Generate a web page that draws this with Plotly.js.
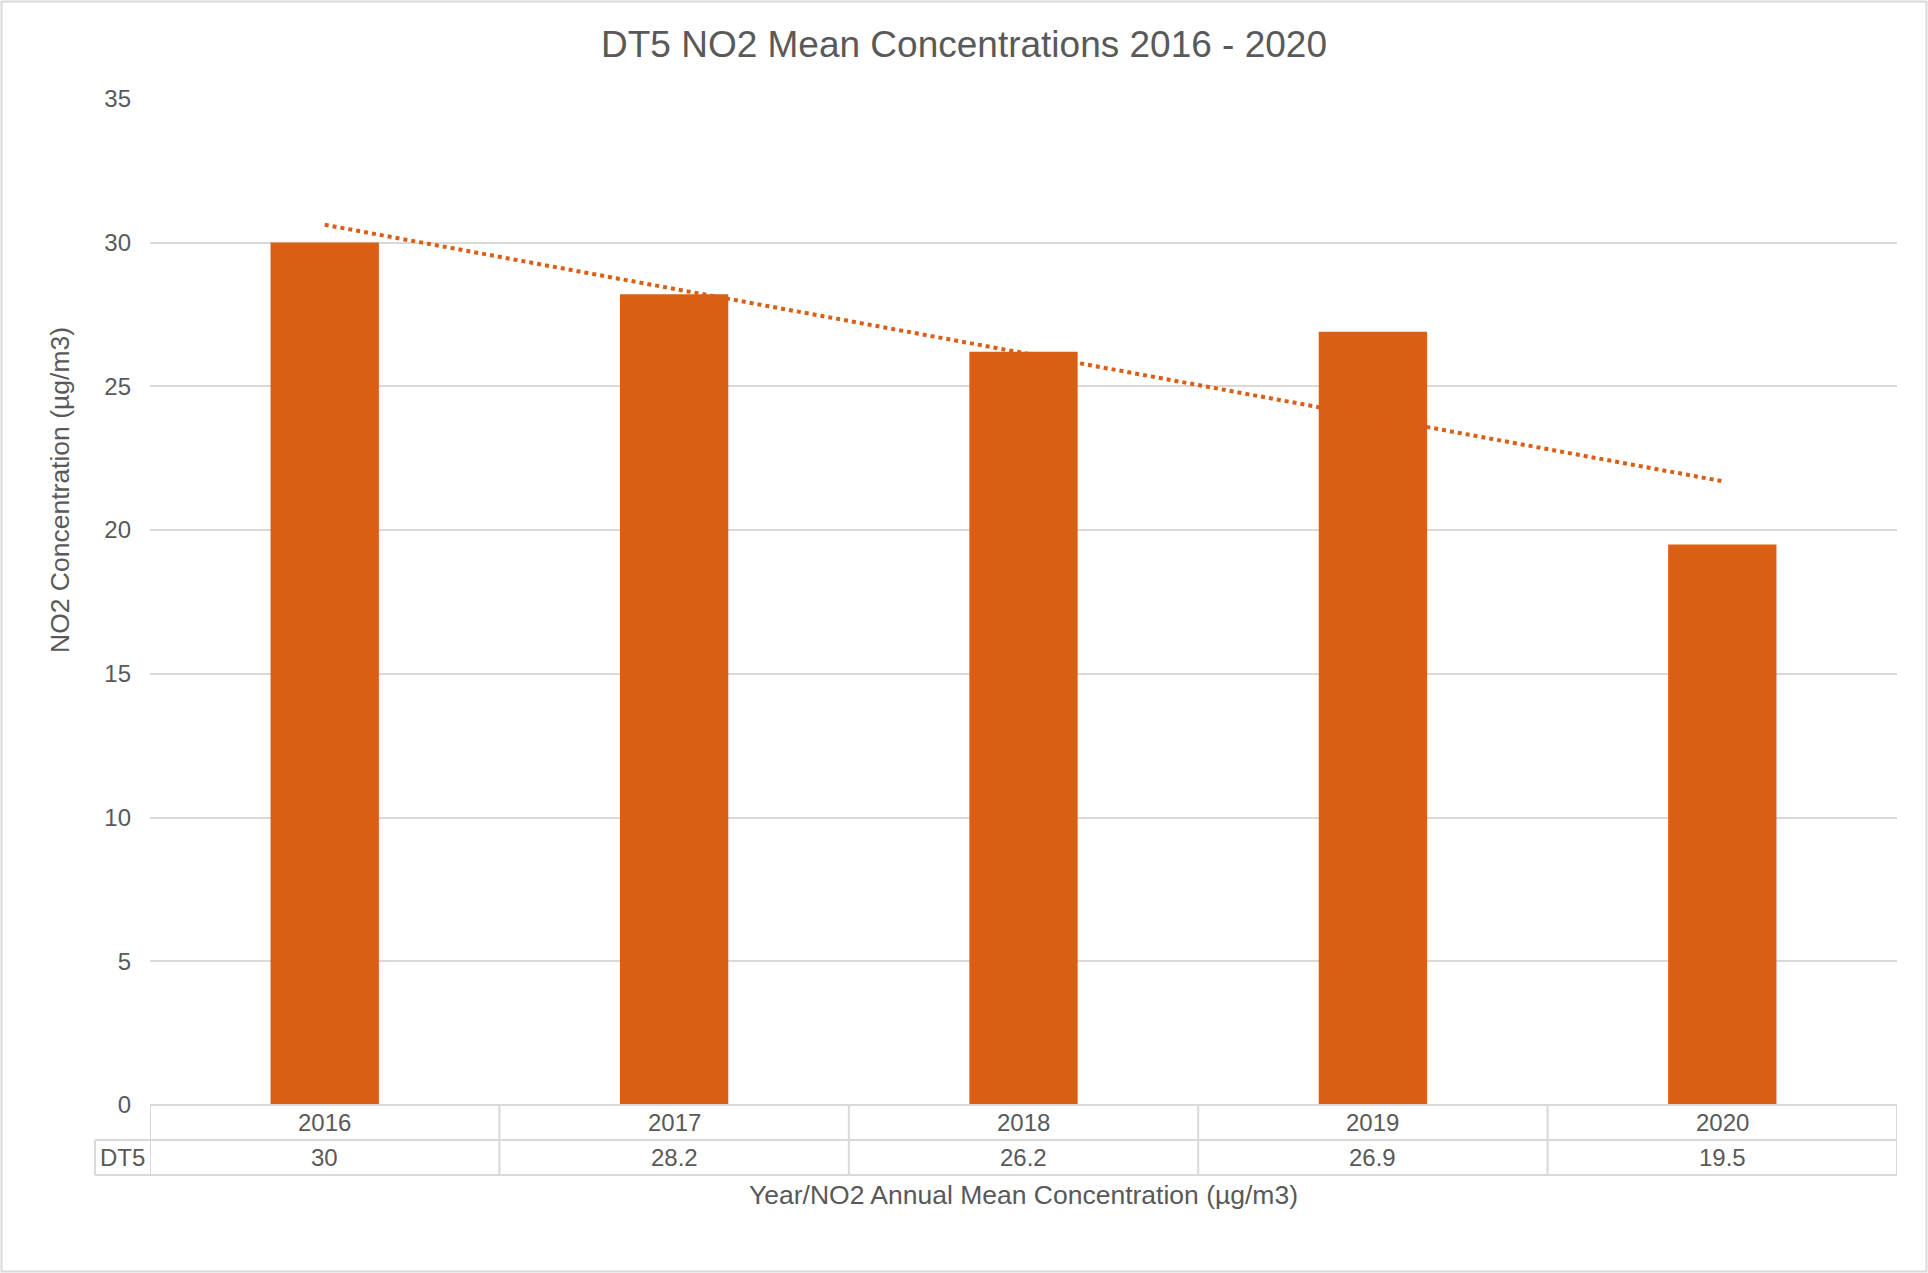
<!DOCTYPE html>
<html>
<head>
<meta charset="utf-8">
<script src="https://cdn.plot.ly/plotly-3.0.1.min.js"></script>
<style>
  html, body { margin: 0; padding: 0; background: #fff; }
  #chart { width: 1928px; height: 1273px; }
</style>
</head>
<body>
<div id="chart"></div>
<script>
// ---- data ----
const years = ['2016', '2017', '2018', '2019', '2020'];
const seriesName = 'DT5';
const dt5Values = [30, 28.2, 26.2, 26.9, 19.5];
const yTicks = [0, 5, 10, 15, 20, 25, 30, 35];

const chartTitle = 'DT5 NO2 Mean Concentrations 2016 - 2020';
const yTitle = 'NO2 Concentration (µg/m3)';
const xTitle = 'Year/NO2 Annual Mean Concentration (µg/m3)';

// ---- styles / layout constants ----
const W = 1928, H = 1273;
const mL = 150, mR = 31, mT = 98, mB = 168;
const plotW = W - mL - mR, plotH = H - mT - mB;
const barColor = '#DA5E14';
const gridColor = '#D9D9D9';
const textColor = '#595959';
const FONT = 'Liberation Sans, Arial, sans-serif';

// linear trendline (least squares) from the data
const n = dt5Values.length;
const xs = dt5Values.map((_, i) => i + 1);
const mx = xs.reduce((a, b) => a + b, 0) / n;
const my = dt5Values.reduce((a, b) => a + b, 0) / n;
let sxy = 0, sxx = 0;
for (let i = 0; i < n; i++) { sxy += (xs[i] - mx) * (dt5Values[i] - my); sxx += (xs[i] - mx) ** 2; }
const slope = sxy / sxx, icpt = my - slope * mx;
const trendY = xs.map(x => icpt + slope * x);

// table geometry in paper coords
const px2x = p => (p - mL) / plotW;
const py2y = p => (H - mB - p) / plotH;
const row1Bottom = py2y(H - mB + 35);
const row2Bottom = py2y(H - mB + 70);
const row1Mid = (0 + row1Bottom) / 2;
const row2Mid = (row1Bottom + row2Bottom) / 2;
const labelLeft = px2x(95);

const lineStyle = { color: gridColor, width: 2 };
const shapes = [];
// horizontal table lines
shapes.push({ type: 'line', xref: 'paper', yref: 'paper', x0: 0, x1: 1, y0: 0, y1: 0, line: lineStyle });
shapes.push({ type: 'line', xref: 'paper', yref: 'paper', x0: labelLeft, x1: 1, y0: row1Bottom, y1: row1Bottom, line: lineStyle });
shapes.push({ type: 'line', xref: 'paper', yref: 'paper', x0: labelLeft, x1: 1, y0: row2Bottom, y1: row2Bottom, line: lineStyle });
// vertical table lines at category boundaries
for (let i = 0; i <= years.length; i++) {
  shapes.push({ type: 'line', xref: 'x', yref: 'paper', x0: i - 0.5, x1: i - 0.5, y0: 0, y1: row2Bottom, line: lineStyle });
}
// series label cell left edge
shapes.push({ type: 'line', xref: 'paper', yref: 'paper', x0: labelLeft, x1: labelLeft, y0: row1Bottom, y1: row2Bottom, line: lineStyle });
// outer chart border
shapes.push({ type: 'rect', xref: 'paper', yref: 'paper',
  x0: px2x(1.5), x1: px2x(W - 1.5), y0: py2y(H - 1.5), y1: py2y(1.5),
  line: { color: gridColor, width: 2 }, fillcolor: 'rgba(0,0,0,0)', layer: 'below' });

const annotations = [];
years.forEach((yr, i) => {
  annotations.push({ xref: 'x', yref: 'paper', x: i, y: row1Mid, text: yr, showarrow: false,
    xanchor: 'center', yanchor: 'middle', font: { family: FONT, size: 24, color: textColor } });
  annotations.push({ xref: 'x', yref: 'paper', x: i, y: row2Mid, text: String(dt5Values[i]), showarrow: false,
    xanchor: 'center', yanchor: 'middle', font: { family: FONT, size: 24, color: textColor } });
});
annotations.push({ xref: 'paper', yref: 'paper', x: px2x(122), y: row2Mid, text: seriesName, showarrow: false,
  xanchor: 'center', yanchor: 'middle', font: { family: FONT, size: 24, color: textColor } });
annotations.push({ xref: 'paper', yref: 'paper', x: 0.5, y: py2y(1195), text: xTitle, showarrow: false,
  xanchor: 'center', yanchor: 'middle', font: { family: FONT, size: 26.5, color: textColor } });
annotations.push({ xref: 'paper', yref: 'paper', x: px2x(60), y: py2y(490), text: yTitle, showarrow: false,
  textangle: -90, xanchor: 'center', yanchor: 'middle', font: { family: FONT, size: 26.5, color: textColor } });

const traces = [
  { type: 'bar', x: years, y: dt5Values, name: seriesName,
    marker: { color: barColor }, hoverinfo: 'x+y' },
  { type: 'scatter', mode: 'lines', x: years, y: trendY, name: 'Linear (' + seriesName + ')',
    line: { color: barColor, width: 4, dash: 'dot' }, hoverinfo: 'skip' }
];

const layout = {
  width: W, height: H,
  margin: { l: mL, r: mR, t: mT, b: mB, pad: 0 },
  paper_bgcolor: '#ffffff', plot_bgcolor: '#ffffff',
  showlegend: false,
  bargap: 0.69,
  font: { family: FONT, color: textColor },
  title: { text: chartTitle, x: 0.5, xref: 'container', y: 1 - 44 / H, yref: 'container',
    xanchor: 'center', yanchor: 'middle', font: { family: FONT, size: 37, color: textColor } },
  xaxis: { type: 'category', range: [-0.5, years.length - 0.5], showticklabels: false, ticks: '',
    showgrid: false, zeroline: false, showline: false, fixedrange: true },
  yaxis: { range: [0, 35.03], tickvals: yTicks, ticktext: yTicks.map(String), ticks: '',
    showgrid: true, gridcolor: gridColor, gridwidth: 2, zeroline: false, showline: false,
    ticklabelstandoff: 18, tickfont: { family: FONT, size: 24, color: textColor }, fixedrange: true },
  shapes: shapes,
  annotations: annotations
};

Plotly.newPlot('chart', traces, layout, { displayModeBar: false, staticPlot: true });
</script>
</body>
</html>
